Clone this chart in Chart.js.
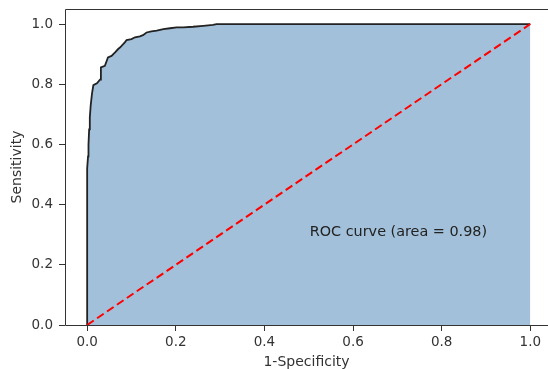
<!DOCTYPE html>
<html>
<head>
<meta charset="utf-8">
<script src="https://cdn.jsdelivr.net/npm/chart.js"></script>
<style>
  html, body { margin: 0; padding: 0; background: #fff; overflow: hidden; }
</style>
</head>
<body>
<canvas id="rocChart" width="548" height="369"></canvas>

<script>
  // ROC curve points
  const fpr = [0, 0, 0.002, 0.003, 0.0045, 0.006, 0.008, 0.011, 0.014, 0.022, 0.029, 0.031,
               0.040, 0.047, 0.055, 0.063, 0.070, 0.074, 0.085, 0.089, 0.100, 0.108, 0.119,
               0.126, 0.134, 0.145, 0.157, 0.172, 0.187, 0.202, 0.217, 0.239, 0.262, 0.284,
               0.292, 1.0];
  const tpr = [0, 0.52, 0.56, 0.60, 0.65, 0.69, 0.73, 0.77, 0.797, 0.803, 0.815, 0.856,
               0.861, 0.889, 0.894, 0.906, 0.917, 0.922, 0.939, 0.947, 0.950, 0.956, 0.959,
               0.963, 0.972, 0.976, 0.978, 0.983, 0.986, 0.989, 0.989, 0.991, 0.994, 0.997,
               1.0, 1.0];
  const chanceX = [0, 1];
  const chanceY = [0, 1];
  const xTicks = [0, 0.2, 0.4, 0.6, 0.8, 1.0];
  const yTicks = [0, 0.2, 0.4, 0.6, 0.8, 1.0];
  const areaLabel = 'ROC curve (area = 0.98)';
  const labelPos = [0.5, 0.3];

  const font = 'DejaVu Sans';
  const ink = '#333';

  // spines (right one falls off the picture) + the area text
  const extras = {
    id: 'extras',
    afterDatasetsDraw(chart) {
      const { ctx, chartArea: a, scales } = chart;
      ctx.save();
      ctx.fillStyle = '#222';
      ctx.font = '14.4px "' + font + '"';
      ctx.textBaseline = 'alphabetic';
      ctx.fillText(areaLabel, scales.x.getPixelForValue(labelPos[0]) + 1,
                   scales.y.getPixelForValue(labelPos[1]) + 1);
      ctx.strokeStyle = ink;
      ctx.lineWidth = 1;
      ctx.beginPath();
      ctx.moveTo(a.right, a.top + 0.5);
      ctx.lineTo(a.left + 0.5, a.top + 0.5);
      ctx.lineTo(a.left + 0.5, a.bottom + 0.5);
      ctx.lineTo(a.right, a.bottom + 0.5);
      ctx.stroke();
      ctx.restore();
    }
  };

  const ctx = document.getElementById('rocChart');

  new Chart(ctx, {
    type: 'scatter',
    data: {
      datasets: [
        {
          data: chanceX.map((x, i) => ({ x: x, y: chanceY[i] })),
          showLine: true,
          borderColor: 'red',
          borderWidth: 2,
          borderDash: [8, 4],
          pointRadius: 0,
          fill: false,
          order: 0
        },
        {
          data: fpr.map((x, i) => ({ x: x, y: tpr[i] })),
          showLine: true,
          borderColor: '#222',
          borderWidth: 1.8,
          backgroundColor: 'rgba(70,130,180,0.5)',
          pointRadius: 0,
          fill: 'origin',
          tension: 0,
          order: 1
        }
      ]
    },
    options: {
      responsive: false,
      animation: false,
      layout: { padding: { top: 9, right: 0, left: 0, bottom: 0 } },
      plugins: {
        legend: { display: false },
        tooltip: { enabled: false }
      },
      scales: {
        x: {
          type: 'linear',
          min: -0.05,
          max: 1.04,
          afterBuildTicks: s => { s.ticks = xTicks.map(v => ({ value: v })); },
          afterFit: s => { s.height = 44; s.paddingLeft = 0; s.paddingRight = 0; },
          grid: { drawOnChartArea: false, tickLength: 6, tickColor: ink, color: ink },
          border: { display: false },
          ticks: {
            color: ink, padding: 3, maxRotation: 0,
            font: { family: font, size: 13.5 },
            callback: v => v.toFixed(1)
          },
          title: {
            display: true, text: '1-Specificity', color: ink,
            font: { family: font, size: 14, lineHeight: 1.0 },
            padding: { top: 0, bottom: 0 }
          }
        },
        y: {
          type: 'linear',
          min: 0,
          max: 1.05,
          afterBuildTicks: s => { s.ticks = yTicks.map(v => ({ value: v })); },
          afterFit: s => { s.width = 65; s.paddingTop = 0; s.paddingBottom = 0; },
          grid: { drawOnChartArea: false, tickLength: 6, tickColor: ink, color: ink },
          border: { display: false },
          ticks: {
            color: ink, padding: 6,
            font: { family: font, size: 13.5 },
            callback: v => v.toFixed(1)
          },
          title: {
            display: true, text: 'Sensitivity', color: ink,
            font: { family: font, size: 14 },
            padding: { top: 9, bottom: 0 }
          }
        }
      }
    },
    plugins: [extras]
  });
</script>
</body>
</html>
